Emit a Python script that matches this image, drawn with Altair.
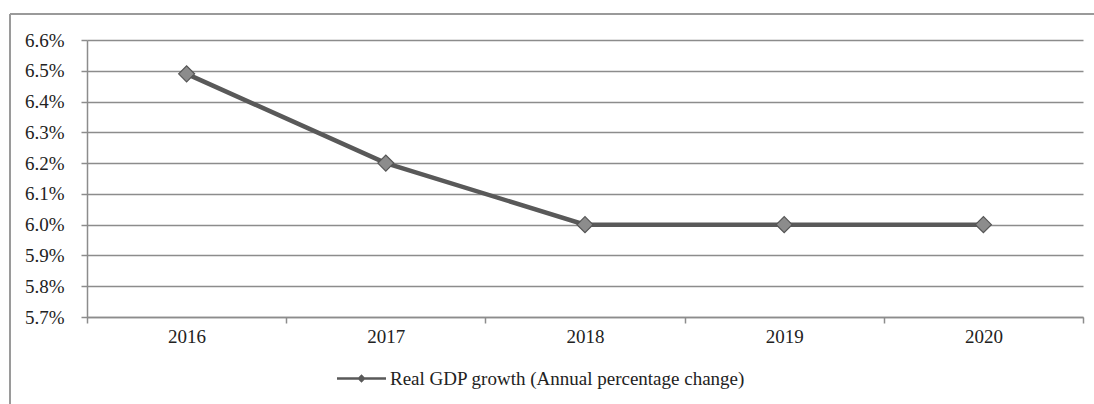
import altair as alt
import pandas as pd

years = ["2016", "2017", "2018", "2019", "2020"]
growth = [0.0649, 0.062, 0.060, 0.060, 0.060]
series_name = "Real GDP growth (Annual percentage change)"
y_ticks = [0.057, 0.058, 0.059, 0.060, 0.061, 0.062, 0.063, 0.064, 0.065, 0.066]

df = pd.DataFrame({"year": years, "growth": growth, "series": [series_name] * len(years)})

FONT = "Liberation Serif"
GRID = "#8c8c8c"
FS = 19

x_enc = alt.X("year:O", title=None,
              scale=alt.Scale(type="band", paddingInner=0, paddingOuter=0),
              axis=alt.Axis(labelAngle=0, tickBand="extent", domainColor=GRID, tickColor=GRID,
                            domainWidth=1.5, tickWidth=1.5, tickSize=6, labelPadding=4,
                            labelFont=FONT, labelFontSize=FS, labelColor="#222222", grid=False))
y_enc = alt.Y("growth:Q", title=None,
              scale=alt.Scale(domain=[0.057, 0.066], nice=False, zero=False),
              axis=alt.Axis(values=y_ticks, format=".1%", domainColor=GRID, tickColor=GRID,
                            domainWidth=1.5, tickWidth=1.5, tickSize=6, labelPadding=17,
                            gridColor=GRID, gridWidth=1.5, gridOpacity=1,
                            labelFont=FONT, labelFontSize=FS, labelColor="#222222"))

legend_path = ("M-1,-0.05 L1,-0.05 L1,0.05 L-1,0.05 Z "
               "M0,-0.17 L0.17,0 L0,0.17 L-0.17,0 Z")

line = alt.Chart(df).mark_line(strokeWidth=4.5).encode(
    x=x_enc, y=y_enc,
    color=alt.Color("series:N", scale=alt.Scale(range=["#595959"]),
                    legend=alt.Legend(title=None, orient="none", legendX=250, legendY=314,
                                      symbolType=legend_path, symbolSize=2401,
                                      symbolStrokeWidth=0, symbolFillColor="#595959",
                                      labelFont=FONT, labelFontSize=FS, labelColor="#222222",
                                      labelOffset=4, labelLimit=0)))

points = alt.Chart(df).mark_point(shape="diamond", size=256, filled=True, fill="#8c8c8c",
                                  stroke="#555555", strokeWidth=1.2, opacity=1).encode(
    x=x_enc, y=y_enc)

frame_top = alt.Chart(df).mark_rule(color="#9a9a9a", strokeWidth=1.5).encode(
    x=alt.value(-77), x2=alt.value(1010), y=alt.value(-26))
frame_left = alt.Chart(df).mark_rule(color="#9a9a9a", strokeWidth=1.5).encode(
    x=alt.value(-77), y=alt.value(-26), y2=alt.value(370))

chart = alt.layer(line, points, frame_top, frame_left).properties(
    width=996, height=277,
    padding={"left": 87, "top": 40, "right": 11, "bottom": 87},
    autosize=alt.AutoSizeParams(type="none"),
    background="white",
).configure_view(stroke=None)

chart.save("out.html", embed_options={"renderer": "svg", "actions": False})
